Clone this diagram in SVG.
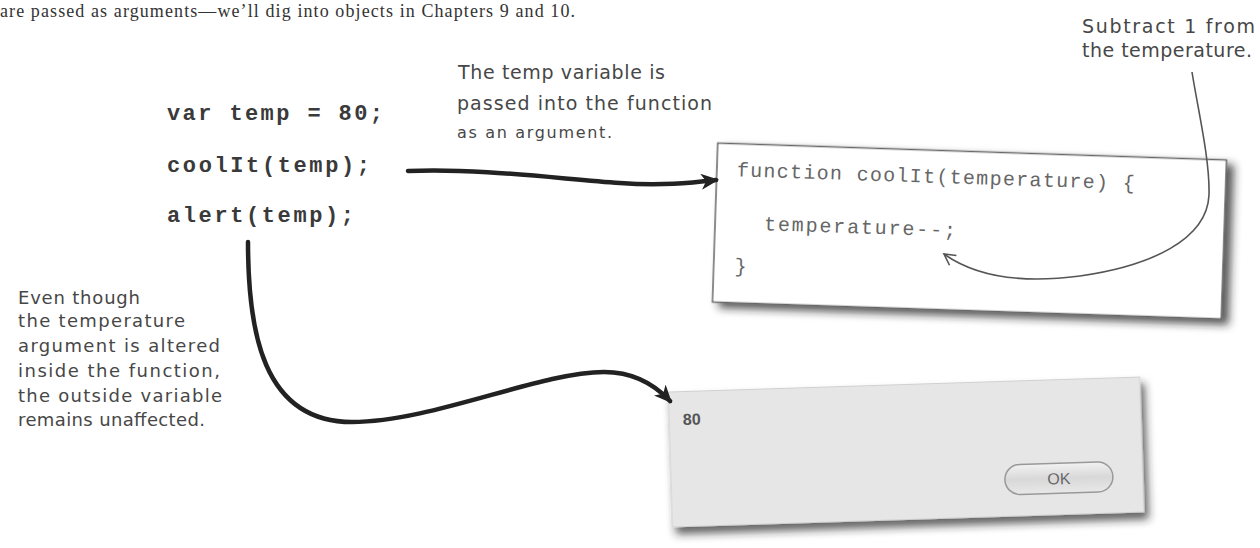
<svg xmlns="http://www.w3.org/2000/svg" width="1260" height="548" viewBox="0 0 1260 548">
<style>
.body{font-family:"Liberation Serif",serif;font-size:18px;fill:#333}
.hand{font-family:"DejaVu Sans","Liberation Sans",sans-serif;fill:#474747}
.code{font-family:"Liberation Mono",monospace;font-weight:bold;font-size:22px;fill:#3a3a3a}
.fcode{font-family:"Liberation Mono",monospace;font-size:20px;fill:#666}
.thick{fill:none;stroke:#222;stroke-width:4.5;stroke-linecap:round}
.thin{fill:none;stroke:#555;stroke-width:1.6}
</style>
<defs>
<filter id="sh1" x="-5%" y="-10%" width="115%" height="130%">
<feDropShadow dx="7" dy="5" stdDeviation="4" flood-color="#222" flood-opacity="0.75"/>
</filter>
<filter id="sh2" x="-5%" y="-10%" width="115%" height="130%">
<feDropShadow dx="4" dy="7" stdDeviation="4" flood-color="#222" flood-opacity="0.7"/>
</filter>
<linearGradient id="btn" x1="0" y1="0" x2="0" y2="1">
<stop offset="0" stop-color="#f2f2f2"/>
<stop offset="0.5" stop-color="#d8d8d8"/>
<stop offset="1" stop-color="#e8e8e8"/>
</linearGradient>
<marker id="ah" viewBox="0 0 18 16" markerUnits="userSpaceOnUse" markerWidth="18" markerHeight="16" refX="15" refY="8" orient="auto">
<path d="M0,0 L18,8 L0,16 L5,8 Z" fill="#222"/>
</marker>
<marker id="av" viewBox="0 0 14 14" markerUnits="userSpaceOnUse" markerWidth="14" markerHeight="14" refX="12" refY="7" orient="auto">
<path d="M1,1 L12,7 L1,13" fill="none" stroke="#555" stroke-width="1.6"/>
</marker>
</defs>
<rect width="1260" height="548" fill="#fff"/>

<text class="body" x="0" y="17" textLength="575">are passed as arguments—we’ll dig into objects in Chapters 9 and 10.</text>

<g id="code-left">
<text class="code" x="167" y="120" textLength="216">var temp = 80;</text>
<text class="code" x="167" y="172" textLength="203">coolIt(temp);</text>
<text class="code" x="167" y="222" textLength="187">alert(temp);</text>
</g>

<g id="function-box" transform="rotate(1.9 969.5 231)">
<rect x="715" y="151.5" width="509" height="159" fill="#fff" stroke="#666" stroke-width="1.5" filter="url(#sh1)"/>
<text class="fcode" x="735" y="184" textLength="398">function coolIt(temperature) {</text>
<text class="fcode" x="764" y="237" textLength="192">temperature--;</text>
<text class="fcode" x="736" y="280">}</text>
</g>

<g id="alert-box" transform="rotate(-1.82 906 452)">
<rect x="670" y="384.5" width="472" height="135" fill="#e6e6e6" stroke="#d0d0d0" stroke-width="1" filter="url(#sh2)"/>
<text x="684" y="418" font-family="Liberation Sans, sans-serif" font-size="16" font-weight="bold" fill="#555">80</text>
<rect x="1004" y="468" width="108" height="30" rx="15" fill="url(#btn)" stroke="#999" stroke-width="1.5"/>
<text x="1058" y="489" text-anchor="middle" font-family="Liberation Sans, sans-serif" font-size="16" fill="#666">OK</text>
</g>

<g id="note-temp">
<text class="hand" x="458" y="79" font-size="19" textLength="207">The temp variable is</text>
<text class="hand" x="457" y="110" font-size="19" textLength="255">passed into the function</text>
<text class="hand" x="457" y="138" font-size="16" textLength="155">as an argument.</text>
</g>

<g id="note-subtract">
<text class="hand" x="1082" y="33" font-size="19" textLength="173">Subtract 1 from</text>
<text class="hand" x="1082" y="57" font-size="19" textLength="170">the temperature.</text>
</g>

<g id="note-even">
<text class="hand" x="18" y="304" font-size="18" textLength="122">Even though</text>
<text class="hand" x="18" y="327" font-size="18" textLength="167">the temperature</text>
<text class="hand" x="18" y="352" font-size="18" textLength="202">argument is altered</text>
<text class="hand" x="18" y="377" font-size="18" textLength="202">inside the function,</text>
<text class="hand" x="18" y="402" font-size="18" textLength="204">the outside variable</text>
<text class="hand" x="18" y="426" font-size="18" textLength="187">remains unaffected.</text>
</g>

<g id="connectors">
<path class="thick" d="M408,171 C480,168 560,179 620,183 C660,186 690,183 716,180" marker-end="url(#ah)"/>
<path class="thick" d="M248,242 C248,330 262,422 352,422 C432,422 540,372 604,372 C636,372 656,386 670,401" marker-end="url(#ah)"/>
<path class="thin" d="M1192,72 C1198,110 1210,160 1209,195 C1207,240 1150,266 1080,276 C1020,284 975,276 944,254" marker-end="url(#av)"/>
</g>
</svg>
